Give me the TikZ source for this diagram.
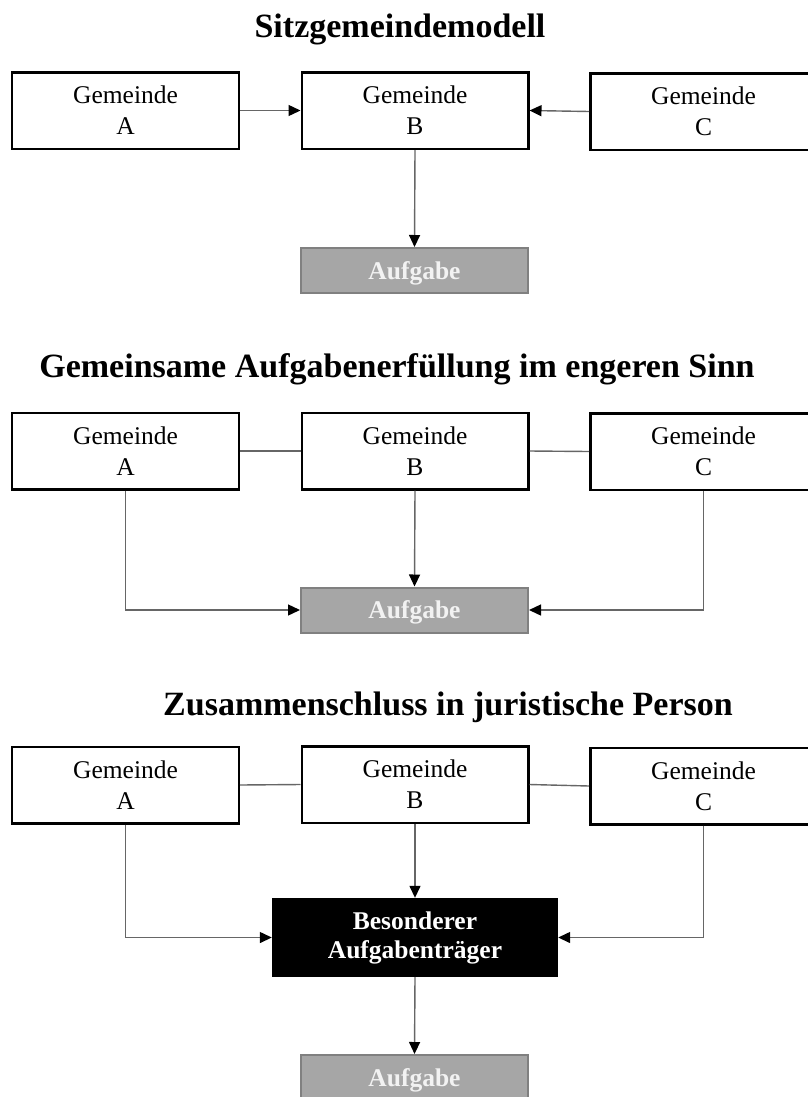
\documentclass[tikz,border=0pt]{standalone}
\usepackage{fontspec}
\setmainfont{Liberation Serif}
\usetikzlibrary{arrows.meta}
\definecolor{lineg}{HTML}{666666}
\definecolor{aufg}{HTML}{A6A6A6}
\definecolor{aufgb}{HTML}{808080}
\definecolor{aufgt}{HTML}{F2F2F2}
\begin{document}
\begin{tikzpicture}[x=1bp,y=-1bp,
 gem/.style={draw=black, line width=2.5bp, fill=white, minimum width=226.5bp, minimum height=76.5bp, inner sep=0pt, align=center, font=\fontsize{25.5bp}{31bp}\selectfont},
 auf/.style={draw=aufgb, line width=2bp, fill=aufg, minimum width=227bp, minimum height=45bp, inner sep=0pt, text depth=0pt, font=\bfseries\fontsize{25.5bp}{31bp}\selectfont, text=aufgt},
 trg/.style={fill=black, minimum width=286bp, minimum height=79bp, inner sep=0pt, align=center, text=white, font=\bfseries\fontsize{25.5bp}{29bp}\selectfont},
 ttl/.style={anchor=base, inner sep=0pt, font=\bfseries\fontsize{34bp}{37bp}\selectfont},
 conn/.style={draw=lineg, line width=1.4bp},
 arr/.style={conn, -{Triangle[length=12bp,width=11bp,fill=black,color=black]}}
]
\useasboundingbox (0,0) rectangle (808,1097);
% Section 1
\node[ttl] (t1) at (400,37) {Sitzgemeindemodell};
\node[gem] (a1) at (125.5,110.5) {Gemeinde\\A};
\node[gem] (b1) at (415,110.5) {Gemeinde\\B};
\node[gem] (c1) at (703.5,111.5) {Gemeinde\\C};
\node[auf] (f1) at (414.5,270.5) {Aufgabe};
\draw[arr] (a1.east) -- (b1.west);
\draw[arr] (c1.west) -- (b1.east);
\draw[arr] (b1.south) -- (f1.north);
% Section 2
\node[ttl] (t2) at (397,377) {Gemeinsame Aufgabenerfüllung im engeren Sinn};
\node[gem] (a2) at (125.5,451) {Gemeinde\\A};
\node[gem] (b2) at (415,451) {Gemeinde\\B};
\node[gem] (c2) at (703.5,451.5) {Gemeinde\\C};
\node[auf] (f2) at (414.5,610) {Aufgabe};
\draw[conn] (a2.east) -- (b2.west);
\draw[conn] (b2.east) -- (c2.west);
\draw[arr] (b2.south) -- (f2.north);
\draw[arr] (a2.south) |- (f2.west);
\draw[arr] (c2.south) |- (f2.east);
% Section 3
\node[ttl] (t3) at (448,715) {Zusammenschluss in juristische Person};
\node[gem] (a3) at (125.5,785) {Gemeinde\\A};
\node[gem] (b3) at (415,784.5) {Gemeinde\\B};
\node[gem] (c3) at (703.5,786) {Gemeinde\\C};
\node[trg] (tr) at (415,937.5) {Besonderer\\Aufgabenträger};
\node[auf] (f3) at (414.5,1077.5) {Aufgabe};
\draw[conn] (a3.east) -- (b3.west);
\draw[conn] (b3.east) -- (c3.west);
\draw[arr] (b3.south) -- (tr.north);
\draw[arr] (a3.south) |- (tr.west);
\draw[arr] (c3.south) |- (tr.east);
\draw[arr] (tr.south) -- (f3.north);
\end{tikzpicture}
\end{document}
